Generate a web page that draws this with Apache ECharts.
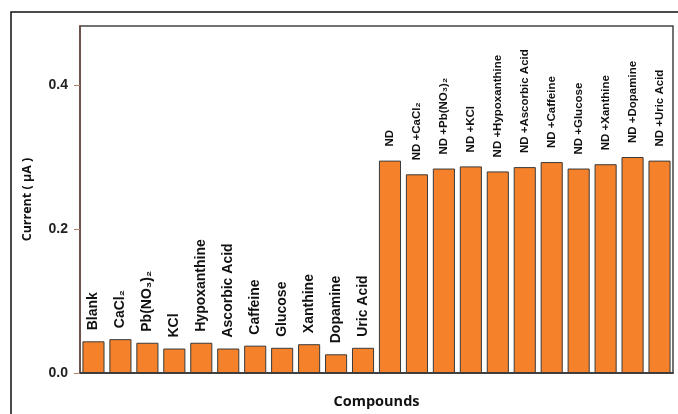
<!DOCTYPE html>
<html>
<head>
<meta charset="utf-8">
<script src="https://cdn.jsdelivr.net/npm/echarts@6/dist/echarts.min.js"></script>
<style>
  html, body { margin: 0; padding: 0; background: #fff; }
  #chart { width: 678px; height: 414px; }
</style>
</head>
<body>
<div id="chart"></div>
<script>
// compounds alone, then each added to ND
const compounds = ['Blank', 'CaCl₂', 'Pb(NO₃)₂', 'KCl', 'Hypoxanthine', 'Ascorbic Acid',
  'Caffeine', 'Glucose', 'Xanthine', 'Dopamine', 'Uric Acid']
const compoundValues = [0.044, 0.047, 0.042, 0.034, 0.042, 0.034, 0.038, 0.035, 0.040, 0.026, 0.035]

const mixtures = ['ND', 'ND +CaCl₂', 'ND +Pb(NO₃)₂', 'ND +KCl', 'ND +Hypoxanthine', 'ND +Ascorbic Acid',
  'ND +Caffeine', 'ND +Glucose', 'ND +Xanthine', 'ND +Dopamine', 'ND +Uric Acid']
const mixtureValues = [0.295, 0.276, 0.284, 0.287, 0.280, 0.286, 0.293, 0.284, 0.290, 0.300, 0.295]

const yTicks = [0, 0.2, 0.4]

const categories = compounds.concat(mixtures)
const barData = compoundValues.map(v => ({ value: v }))
  .concat(mixtureValues.map(v => ({ value: v, label: { fontSize: 11.5, distance: 14 } })))

const chart = echarts.init(document.getElementById('chart'))
chart.setOption({
  animation: false,
  textStyle: { fontFamily: 'Liberation Sans, Arial, sans-serif' },
  graphic: [{
    type: 'rect',
    shape: { x: 11, y: 12, width: 720, height: 500 },
    style: { fill: 'none', stroke: '#111', lineWidth: 1.5 },
    silent: true
  }],
  grid: {
    left: 80, right: 5, top: 26, bottom: 36,
    show: true, borderColor: '#444', borderWidth: 1.5, backgroundColor: 'transparent'
  },
  xAxis: {
    type: 'category',
    data: categories,
    name: 'Compounds',
    nameLocation: 'middle',
    nameGap: 21,
    nameTextStyle: { fontWeight: 'bold', fontSize: 14.5, color: '#111', fontFamily: 'Open Sans, sans-serif' },
    axisLine: { lineStyle: { color: '#333', width: 1.5 } },
    axisTick: { show: false },
    axisLabel: { show: false }
  },
  yAxis: {
    type: 'value',
    min: 0,
    max: 0.482,
    name: 'Current ( µA )',
    nameLocation: 'middle',
    nameGap: 46,
    nameTextStyle: { fontWeight: 'bold', fontSize: 12.5, color: '#111', fontFamily: 'Open Sans, sans-serif' },
    splitLine: { show: false },
    axisLine: { show: true, lineStyle: { color: '#6b4a40', width: 1.5 } },
    axisTick: { show: true, length: 6, customValues: yTicks, lineStyle: { color: '#b08070' } },
    axisLabel: {
      customValues: yTicks,
      margin: 12,
      fontWeight: 'bold',
      fontSize: 14,
      color: '#222',
      formatter: v => v.toFixed(1)
    }
  },
  series: [{
    type: 'bar',
    data: barData,
    barCategoryGap: '18%',
    itemStyle: { color: '#F5822A', borderColor: '#3a3a3a', borderWidth: 1 },
    label: {
      show: true,
      position: 'top',
      rotate: 90,
      align: 'left',
      verticalAlign: 'middle',
      distance: 11,
      formatter: '{b}',
      fontWeight: 'bold',
      fontSize: 14,
      color: '#111'
    }
  }]
})
</script>
</body>
</html>
